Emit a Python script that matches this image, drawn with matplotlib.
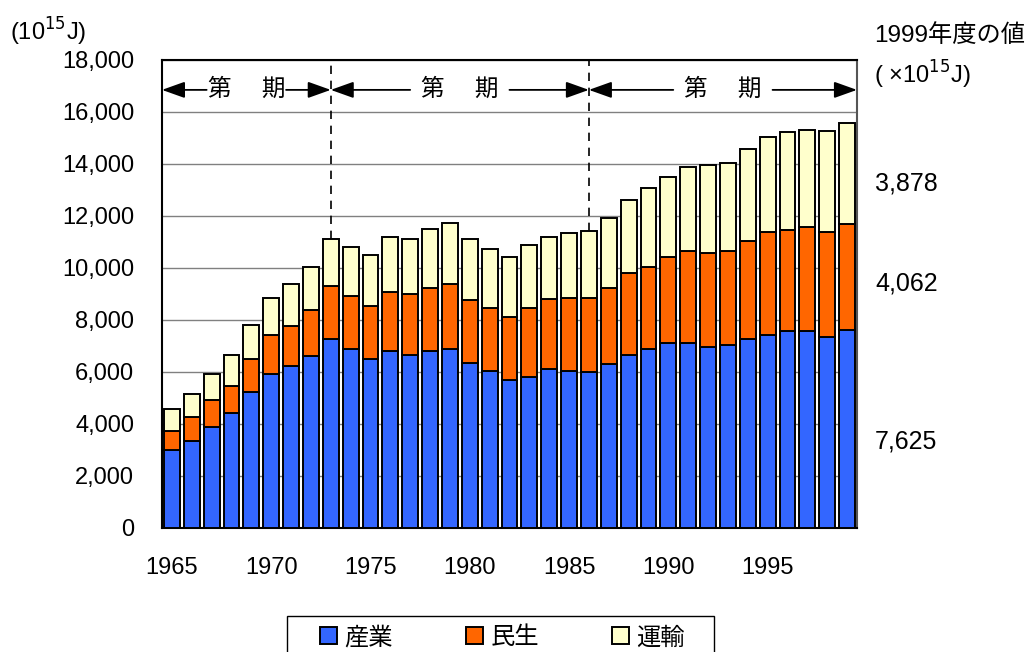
import numpy as np
import matplotlib
matplotlib.use("Agg")
import matplotlib.pyplot as plt
from matplotlib.ticker import FuncFormatter
from matplotlib.patches import Rectangle

plt.rcParams['font.family'] = ['Liberation Sans', 'Noto Sans CJK JP', 'DejaVu Sans']

#%% data (10^15 J)
years = np.arange(1965, 2000)
industry = [2990, 3360, 3890, 4410, 5230, 5920, 6230, 6600, 7280, 6900,
            6510, 6815, 6670, 6810, 6890, 6360, 6050, 5690, 5820, 6130,
            6050, 6000, 6290, 6650, 6900, 7115, 7115, 6960, 7040, 7270,
            7420, 7580, 7580, 7350, 7625]
residential = [740, 900, 1030, 1050, 1270, 1490, 1550, 1800, 2030, 2020,
               2030, 2260, 2330, 2420, 2500, 2420, 2420, 2420, 2650, 2670,
               2800, 2860, 2940, 3160, 3140, 3310, 3540, 3600, 3610, 3760,
               3980, 3880, 3980, 4050, 4062]
transport = [835, 910, 990, 1205, 1295, 1436, 1600, 1650, 1800, 1885,
             1975, 2100, 2100, 2260, 2330, 2320, 2260, 2320, 2420, 2385,
             2490, 2550, 2710, 2810, 3030, 3090, 3230, 3400, 3380, 3540,
             3620, 3780, 3760, 3850, 3878]
labels = ['産業', '民生', '運輸']
period_breaks = [1973, 1986]
xtick_years = [1965, 1970, 1975, 1980, 1985, 1990, 1995]

colors = ['#3366FF', '#FF6600', '#FFFFCC']

#%% plot
fig = plt.figure(figsize=(10.29, 6.52), dpi=100)
ax = fig.add_axes([0.1574, 0.1902, 0.6754, 0.7178])

x = np.arange(len(years))
ind = np.array(industry)
res = np.array(residential)
tra = np.array(transport)
total = ind + res + tra

ax.bar(x, ind, width=0.8, color=colors[0], edgecolor='black', linewidth=1.4, label=labels[0], zorder=3)
ax.bar(x, res, width=0.8, bottom=ind, color=colors[1], edgecolor='black', linewidth=1.4, label=labels[1], zorder=3)
ax.bar(x, tra, width=0.8, bottom=ind + res, color=colors[2], edgecolor='black', linewidth=1.4, label=labels[2], zorder=3)

ax.set_xlim(-0.5, len(years) - 0.5)
ax.set_ylim(0, 18000)
ax.set_yticks(np.arange(0, 18001, 2000))
ax.yaxis.set_major_formatter(FuncFormatter(lambda v, p: f'{int(v):,}'))
ax.set_xticks([list(years).index(y) for y in xtick_years])
ax.set_xticklabels([str(y) for y in xtick_years])
ax.tick_params(axis='y', length=0, pad=20, labelsize=17)
ax.tick_params(axis='x', length=0, pad=21, labelsize=17)
ax.grid(axis='y', color='#808080', linewidth=1.0, zorder=0)
for s in ['left', 'bottom', 'top']:
    ax.spines[s].set_color('black')
    ax.spines[s].set_linewidth(1.5)
ax.spines['right'].set_color('#555555')
ax.spines['right'].set_linewidth(1.5)

# period dividers
for yb in period_breaks:
    i = list(years).index(yb)
    ax.vlines(i, total[i], 18000, colors='black', linestyles=(0, (5, 4)), linewidth=1.2, zorder=4)

# period labels with arrows
edges = [-0.5] + [list(years).index(yb) for yb in period_breaks] + [len(years) - 0.5]
yp = 16850
arrow_kw = dict(arrowstyle='-|>,head_length=1.4,head_width=0.5', color='black', lw=1.3,
                shrinkA=0, shrinkB=0)
for a, b in zip(edges[:-1], edges[1:]):
    mid = (a + b) / 2
    ax.text(mid, yp, '第　 期', ha='center', va='center', fontsize=17, zorder=5)
    half = 2.0 if b - a < 10 else 2.5
    ax.annotate('', xy=(a, yp), xytext=(mid - half, yp), arrowprops=arrow_kw)
    ax.annotate('', xy=(b, yp), xytext=(mid + half, yp), arrowprops=arrow_kw)

# units and 1999 values
fig.text(10 / 1029, 1 - 32 / 652, '(10$^{15}$J)', fontsize=17, va='center', ha='left')
fig.text(874 / 1029, 1 - 36 / 652, '1999年度の値', fontsize=17.5, va='center', ha='left')
fig.text(874 / 1029, 1 - 75 / 652, '( ×10$^{15}$J)', fontsize=17, va='center', ha='left')
for val, ypx in zip([transport[-1], residential[-1], industry[-1]], [183, 284, 441]):
    fig.text(875 / 1029, 1 - ypx / 652, f'{val:,}', fontsize=18, va='center', ha='left')

# legend (box is cut by the bottom edge, as in the original)
leg = fig.legend(loc='center', bbox_to_anchor=(0.4883, 1 - 638 / 652), ncol=3,
                 fontsize=17.5, frameon=False,
                 handlelength=0.7, handleheight=0.7, handletextpad=0.3,
                 columnspacing=3.0, borderpad=0.0)
fig.patches.append(Rectangle((287 / 1029, -0.02), 427 / 1029, 0.02 + (652 - 616) / 652,
                             transform=fig.transFigure, fill=False, edgecolor='black',
                             linewidth=1.0))

fig.savefig('out.png', dpi=100)
